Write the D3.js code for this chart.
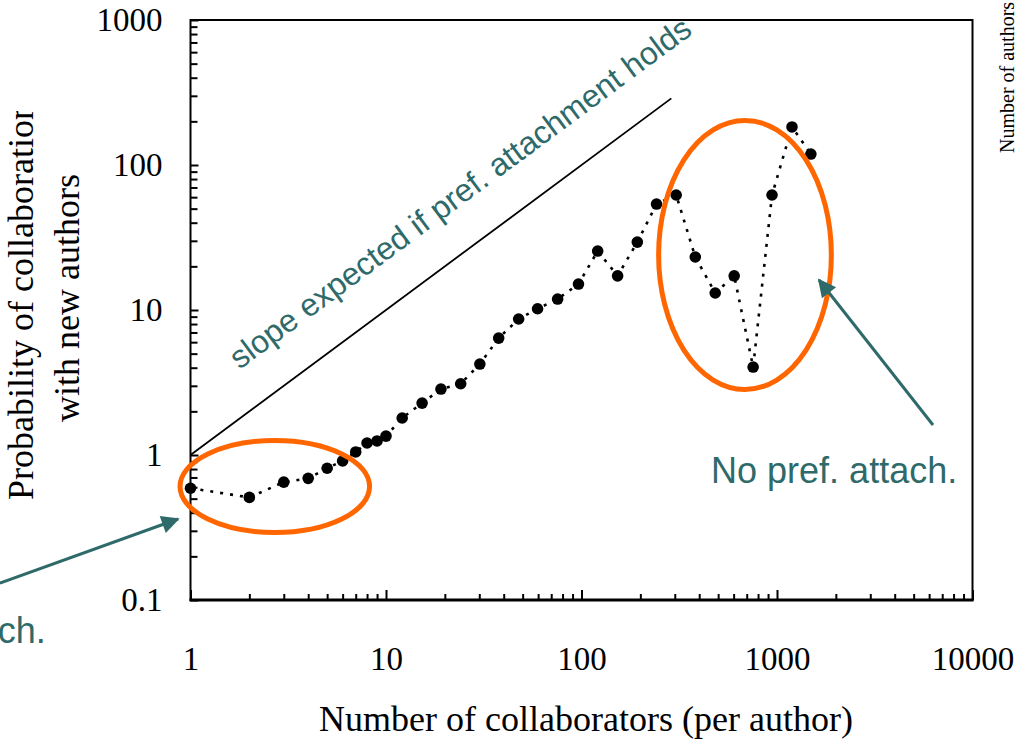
<!DOCTYPE html>
<html>
<head>
<meta charset="utf-8">
<script src="https://cdn.jsdelivr.net/npm/d3@7"></script>
<style>
  html, body { margin: 0; padding: 0; background: #fff; }
  svg { display: block; }
</style>
</head>
<body>
<svg id="chart" width="1016" height="743"></svg>
<script>
// Number of collaborators per author (x) and probability of collaborating with new authors (y)
const collaborators = [1, 2, 3, 4, 5, 6, 7, 8, 9, 10, 12.1, 15.3, 19.1, 24.1, 30.2, 37.7, 47.7, 59.6, 75.5, 96.5,
  121, 153, 193, 242, 305, 382, 483, 604, 755, 943, 1193, 1490];
const probability = [0.59, 0.51, 0.65, 0.69, 0.81, 0.91, 1.05, 1.21, 1.25, 1.35, 1.8, 2.28, 2.85, 3.1, 4.24, 6.4, 8.67, 10.2, 11.9, 15.1,
  25.5, 17.2, 29.4, 53.8, 62.1, 23.2, 13.1, 17.2, 4.04, 62.1, 183, 119];

const xTickValues = [1, 10, 100, 1000, 10000];
const yTickValues = [0.1, 1, 10, 100, 1000];

// Reference slope (y = x) for preferential attachment
const slopeStart = 1;
const slopeEnd = 288;

// Highlighted regions (data-space bounds)
const regionLow = { x0: 0.884, x1: 8.24, y0: 0.292, y1: 1.26 };
const regionHigh = { x0: 248, x1: 1897, y0: 2.83, y1: 203 };

// Annotation arrows (tail -> tip, data space)
const arrowLeft = { from: [0.106, 0.131], to: [0.863, 0.362] };
const arrowRight = { from: [6281, 1.61], to: [1640, 16.1] };

const noPrefLabel = "No pref. attach.";
const slopeLabel = "slope expected if pref. attachment holds";

const serif = "'Liberation Serif', 'Times New Roman', serif";
const sans = "'Liberation Sans', Arial, sans-serif";
const teal = "#2f6a6a";
const orange = "#ff6600";

const svg = d3.select("#chart");

const x = d3.scaleLog().domain([1, 10000]).range([190.5, 972.5]);
const y = d3.scaleLog().domain([0.1, 1000]).range([600, 20]);

function minorTicks(domain) {
  const out = [];
  for (let p = Math.log10(domain[0]); p < Math.log10(domain[1]); p++) {
    for (let m = 2; m <= 9; m++) out.push(m * Math.pow(10, p));
  }
  return out;
}

// Frame
svg.append("rect")
  .attr("x", x(1)).attr("y", y(1000))
  .attr("width", x(10000) - x(1)).attr("height", y(0.1) - y(1000))
  .attr("fill", "none").attr("stroke", "#000").attr("stroke-width", 2);
svg.append("line")
  .attr("x1", x(1) - 1).attr("x2", x(10000) + 1)
  .attr("y1", y(0.1)).attr("y2", y(0.1))
  .attr("stroke", "#000").attr("stroke-width", 3);

// X axis: inward minor and major ticks
const gxMinor = svg.append("g").attr("transform", `translate(0,${y(0.1)})`)
  .call(d3.axisBottom(x).tickValues(minorTicks(x.domain())).tickSize(-6).tickFormat(""));
const gxMajor = svg.append("g").attr("transform", `translate(0,${y(0.1)})`)
  .call(d3.axisBottom(x).tickValues(xTickValues).tickSize(-10).tickPadding(47).tickFormat(d3.format("~g")));

// Y axis
const gyMinor = svg.append("g").attr("transform", `translate(${x(1)},0)`)
  .call(d3.axisLeft(y).tickValues(minorTicks(y.domain())).tickSize(-7).tickFormat(""));
const gyMajor = svg.append("g").attr("transform", `translate(${x(1)},0)`)
  .call(d3.axisLeft(y).tickValues(yTickValues).tickSize(-8).tickPadding(28).tickFormat(d3.format("~g")));

[gxMinor, gxMajor, gyMinor, gyMajor].forEach(g => {
  g.select(".domain").remove();
  g.selectAll(".tick line").attr("stroke", "#000").attr("stroke-width", 2);
  g.selectAll("text").attr("font-family", serif).attr("font-size", 33).attr("fill", "#000");
});

// Axis titles
svg.append("text")
  .attr("x", 586).attr("y", 731)
  .attr("text-anchor", "middle")
  .attr("font-family", serif).attr("font-size", 36)
  .text("Number of collaborators (per author)");

svg.append("clipPath").attr("id", "ytitle-clip")
  .append("rect").attr("x", 0).attr("y", 111).attr("width", 120).attr("height", 520);

const yTitle = svg.append("g").attr("clip-path", "url(#ytitle-clip)");
yTitle.append("text")
  .attr("transform", "translate(33,301) rotate(-90)")
  .attr("text-anchor", "middle")
  .attr("font-family", serif).attr("font-size", 36)
  .text("Probability of collaboration");
yTitle.append("text")
  .attr("transform", "translate(79,298) rotate(-90)")
  .attr("text-anchor", "middle")
  .attr("font-family", serif).attr("font-size", 36)
  .text("with new authors");

// Neighbouring axis title at the right edge
svg.append("text")
  .attr("transform", "translate(1014,153) rotate(-90)")
  .attr("text-anchor", "start")
  .attr("font-family", serif).attr("font-size", 20)
  .text("Number of authors");

// Reference slope line
svg.append("line")
  .attr("x1", x(slopeStart)).attr("y1", y(slopeStart))
  .attr("x2", x(slopeEnd)).attr("y2", y(slopeEnd))
  .attr("stroke", "#000").attr("stroke-width", 1.8);

const slopeAngle = Math.atan2(y(10) - y(1), x(10) - x(1)) * 180 / Math.PI;
svg.append("text")
  .attr("transform", `translate(${x(1.78)},${y(3.85)}) rotate(${slopeAngle})`)
  .attr("font-family", sans).attr("font-size", 32).attr("fill", teal)
  .text(slopeLabel);

// Data series
const data = collaborators.map((c, i) => ({ c, p: probability[i] }));
svg.append("path")
  .datum(data)
  .attr("fill", "none")
  .attr("stroke", "#000")
  .attr("stroke-width", 2.6)
  .attr("stroke-dasharray", "3,7")
  .attr("d", d3.line().x(d => x(d.c)).y(d => y(d.p)));

svg.append("g").selectAll("circle")
  .data(data).join("circle")
  .attr("cx", d => x(d.c)).attr("cy", d => y(d.p))
  .attr("r", 5.8).attr("fill", "#000");

// Highlight ellipses
[regionLow, regionHigh].forEach(r => {
  svg.append("ellipse")
    .attr("cx", (x(r.x0) + x(r.x1)) / 2)
    .attr("cy", (y(r.y0) + y(r.y1)) / 2)
    .attr("rx", (x(r.x1) - x(r.x0)) / 2)
    .attr("ry", (y(r.y0) - y(r.y1)) / 2)
    .attr("fill", "none").attr("stroke", orange).attr("stroke-width", 5);
});

// Arrows
svg.append("defs").append("marker")
  .attr("id", "arrowhead")
  .attr("viewBox", "0 0 10 10")
  .attr("refX", 9).attr("refY", 5)
  .attr("markerUnits", "userSpaceOnUse")
  .attr("markerWidth", 22).attr("markerHeight", 18)
  .attr("orient", "auto")
  .append("path").attr("d", "M0,0 L10,5 L0,10 Z").attr("fill", teal);

[arrowLeft, arrowRight].forEach(a => {
  svg.append("line")
    .attr("x1", x(a.from[0])).attr("y1", y(a.from[1]))
    .attr("x2", x(a.to[0])).attr("y2", y(a.to[1]))
    .attr("stroke", teal).attr("stroke-width", 3)
    .attr("marker-end", "url(#arrowhead)");
});

// Annotation labels
svg.append("text")
  .attr("x", x(460)).attr("y", y(0.641))
  .attr("font-family", sans).attr("font-size", 36).attr("fill", teal)
  .text(noPrefLabel);
svg.append("text")
  .attr("x", x(0.182)).attr("y", y(0.0505))
  .attr("text-anchor", "end")
  .attr("font-family", sans).attr("font-size", 36).attr("fill", teal)
  .text(noPrefLabel);
</script>
</body>
</html>
